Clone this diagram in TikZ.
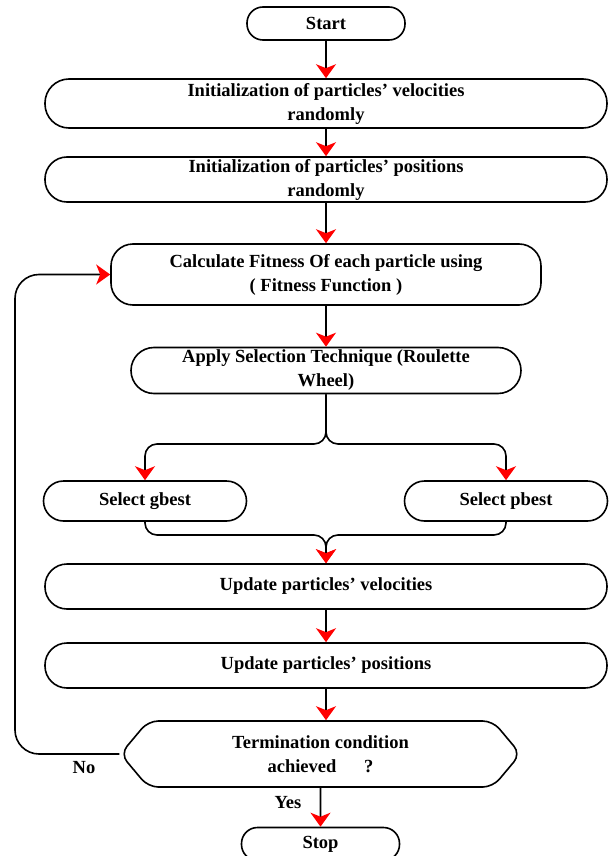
\documentclass[tikz,border=0pt]{standalone}
\usepackage{fontspec}
\setmainfont{Liberation Serif}
\usetikzlibrary{arrows.meta, shapes.symbols}

\begin{document}
\begin{tikzpicture}[x=1pt, y=-1pt, line width=1.6pt,
    font=\fontsize{18.5}{24}\selectfont\bfseries,
    >={Stealth[length=14pt, width=20pt, inset=4pt, color=red]},
    term/.style={draw, rounded corners=16pt, minimum width=158pt, minimum height=33pt, inner sep=0pt},
    proc/.style={draw, rounded corners=#1, minimum width=562pt, align=center, inner sep=0pt},
    pick/.style={draw, rounded corners=20pt, minimum width=203pt, minimum height=40pt, inner sep=0pt},
    cond/.style={draw, signal, signal to=west and east, signal pointer angle=100, rounded corners=10pt,
                 minimum width=400pt, minimum height=66pt, align=center, inner sep=0pt},
    flow/.style={->, rounded corners=12pt}
]
    \useasboundingbox (0,0) rectangle (608,856);
    \node[term] (start) at (326,23.5) {Start};
    \node[proc=24pt, minimum height=49pt] (initv) at (326,103.5) {Initialization of particles’ velocities\\randomly};
    \node[proc=22pt, minimum height=45pt] (initp) at (326,179.5) {Initialization of particles’ positions\\randomly};
    \node[proc=22pt, minimum width=430pt, minimum height=61pt] (fit) at (326,274.5) {Calculate Fitness Of each particle using\\( Fitness Function )};
    \node[proc=23pt, minimum width=390pt, minimum height=46pt] (apply) at (326,370.5) {Apply Selection Technique (Roulette\\Wheel)};
    \node[pick] (gbest) at (145,501) {Select gbest};
    \node[pick] (pbest) at (506,501) {Select pbest};
    \node[proc=22pt, minimum height=45pt] (updv) at (326,586.5) {Update particles’ velocities};
    \node[proc=22pt, minimum height=45pt] (updp) at (326,665.5) {Update particles’ positions};
    \node[cond] (cond) at (320.5,754) {Termination condition\\achieved\hspace{1.5em}?};
    \node[term] (stop) at (320.5,844) {Stop};
    \draw[->] (start) -- (initv);
    \draw[->] (initv) -- (initp);
    \draw[->] (initp) -- (fit);
    \draw[->] (fit) -- (apply);
    \draw[flow] (apply.south) -- (326,444) -| (gbest.north);
    \draw[flow] (apply.south) -- (326,444) -| (pbest.north);
    \draw[flow] (gbest.south) |- (326,535) -- (updv.north);
    \draw[flow] (pbest.south) |- (326,535) -- (updv.north);
    \draw[->] (updv) -- (updp);
    \draw[->] (updp.south) -- (updp.south |- cond.north);
    \draw[->] (cond) -- (stop);
    \draw[flow, rounded corners=24pt] (cond.west) -| (15,274.5) -- (fit.west);
    \node (no) at (84,768) {No};
    \node (yes) at (288,803) {Yes};
\end{tikzpicture}
\end{document}
